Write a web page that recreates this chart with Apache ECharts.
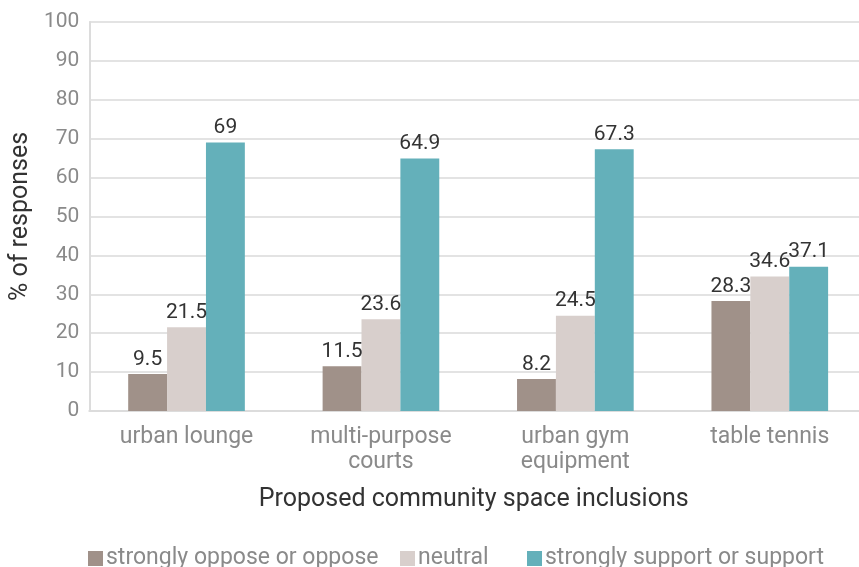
<!DOCTYPE html>
<html>
<head>
<meta charset="utf-8">
<script src="https://cdn.jsdelivr.net/npm/echarts@6/dist/echarts.min.js"></script>
<style>
html,body{margin:0;padding:0;background:#fff;overflow:hidden;}
#chart{width:867px;height:567px;}
</style>
</head>
<body>
<div id="chart"></div>
<script>
const categories = ['urban lounge', 'multi-purpose\ncourts', 'urban gym\nequipment', 'table tennis'];
const seriesNames = ['strongly oppose or oppose', 'neutral', 'strongly support or support'];
const opposeValues = [9.5, 11.5, 8.2, 28.3];
const neutralValues = [21.5, 23.6, 24.5, 34.6];
const supportValues = [69, 64.9, 67.3, 37.1];
const yTicks = [0, 10, 20, 30, 40, 50, 60, 70, 80, 90, 100];

const colors = ['#a09189', '#d8cfcc', '#64b0ba'];
const FONT = 'Roboto';

const chart = echarts.init(document.getElementById('chart'));

function barSeries(name, values, color) {
  return {
    name: name,
    type: 'bar',
    data: values,
    barGap: '0%',
    barCategoryGap: '40%',
    itemStyle: { color: color },
    label: {
      show: true,
      position: 'top',
      distance: 4,
      color: '#333',
      fontSize: 21,
      fontFamily: FONT
    }
  };
}

function legendAt(idx, left) {
  return {
    data: [seriesNames[idx]],
    left: left,
    top: 547,
    itemWidth: 15,
    itemHeight: 15,
    icon: 'rect',
    itemGap: 0,
    padding: 0,
    textStyle: { color: '#8a8a8a', fontSize: 23, fontFamily: FONT, padding: [0, 0, 0, -2] },
    selectedMode: false
  };
}

chart.setOption({
  animation: false,
  textStyle: { fontFamily: FONT },
  legend: [legendAt(0, 88), legendAt(1, 400), legendAt(2, 527)],
  grid: { left: 88, right: 0, top: 22, height: 389, containLabel: false },
  xAxis: {
    type: 'category',
    data: categories,
    name: 'Proposed community space inclusions',
    nameLocation: 'middle',
    nameGap: 76,
    nameTextStyle: { color: '#333', fontSize: 25, fontFamily: FONT, padding: [0, 0, 0, -9] },
    axisLine: { lineStyle: { color: '#dcdcdc', width: 2 } },
    axisTick: { show: false },
    axisLabel: { color: '#8a8a8a', fontSize: 23, fontFamily: FONT, lineHeight: 25, margin: 14 }
  },
  yAxis: {
    type: 'value',
    min: yTicks[0],
    max: yTicks[yTicks.length - 1],
    interval: 10,
    name: '% of responses',
    nameLocation: 'middle',
    nameGap: 50,
    nameTextStyle: { color: '#333', fontSize: 25, fontFamily: FONT },
    axisLine: { show: true, lineStyle: { color: '#dcdcdc', width: 2 } },
    axisTick: { show: false },
    splitLine: { lineStyle: { color: '#e3e3e3', width: 2 } },
    axisLabel: { color: '#8a8a8a', fontSize: 21, fontFamily: FONT, margin: 10 }
  },
  series: [
    barSeries(seriesNames[0], opposeValues, colors[0]),
    barSeries(seriesNames[1], neutralValues, colors[1]),
    barSeries(seriesNames[2], supportValues, colors[2])
  ]
});
</script>
</body>
</html>
